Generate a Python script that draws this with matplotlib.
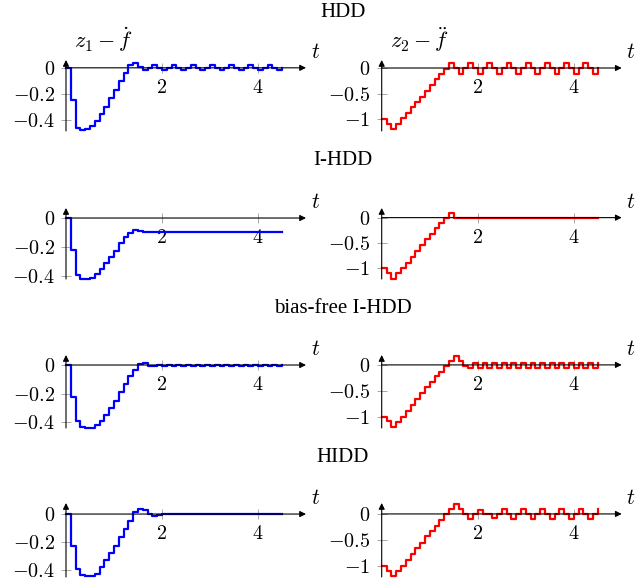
import numpy as np
import matplotlib
matplotlib.use("Agg")
import matplotlib.pyplot as plt

plt.rcParams['mathtext.fontset'] = 'cm'
plt.rcParams['font.family'] = ['Liberation Serif', 'DejaVu Serif']

# sample times (0.1 s grid, 0 .. 4.5)
t = np.round(np.arange(46) * 0.1, 1)

titles = ["HDD", "I-HDD", "bias-free I-HDD", "HIDD"]

hdd_z1 = [0, -0.245, -0.46, -0.478, -0.47, -0.447, -0.405, -0.357, -0.30, -0.232,
          -0.168, -0.098, -0.039, 0.02, 0.04, 0.01, -0.02, 0.0, 0.025, 0.0,
          -0.02, 0.0, 0.025, 0.0, -0.02, 0.0, 0.025, 0.0, -0.02, 0.0,
          0.025, 0.0, -0.02, 0.0, 0.025, 0.0, -0.02, 0.0, 0.025, 0.0,
          -0.02, 0.0, 0.025, 0.0, -0.02, 0.0]
hdd_z2 = [-1.0, -1.09, -1.19, -1.09, -0.98, -0.88, -0.77, -0.67, -0.56, -0.45,
          -0.34, -0.22, -0.12, -0.01, 0.1, 0.0, -0.11, 0.0, 0.1, 0.0,
          -0.11, 0.0, 0.1, 0.0, -0.11, 0.0, 0.1, 0.0, -0.11, 0.0,
          0.1, 0.0, -0.11, 0.0, 0.1, 0.0, -0.11, 0.0, 0.1, 0.0,
          -0.11, 0.0, 0.1, 0.0, -0.11, 0.0]

ihdd_z1 = [0, -0.22, -0.39, -0.42, -0.42, -0.41, -0.385, -0.35, -0.31, -0.27,
           -0.225, -0.175, -0.13, -0.10, -0.085, -0.092, -0.095, -0.095, -0.095, -0.095,
           -0.095, -0.095, -0.095, -0.095, -0.095, -0.095, -0.095, -0.095, -0.095, -0.095,
           -0.095, -0.095, -0.095, -0.095, -0.095, -0.095, -0.095, -0.095, -0.095, -0.095,
           -0.095, -0.095, -0.095, -0.095, -0.095, -0.095]
ihdd_z2 = [-1.0, -1.1, -1.21, -1.1, -1.0, -0.89, -0.77, -0.66, -0.54, -0.43,
           -0.32, -0.21, -0.11, -0.01, 0.1, -0.01, -0.01, 0.0, 0.0, 0.0,
           0.0, 0.0, 0.0, 0.0, 0.0, 0.0, 0.0, 0.0, 0.0, 0.0,
           0.0, 0.0, 0.0, 0.0, 0.0, 0.0, 0.0, 0.0, 0.0, 0.0,
           0.0, 0.0, 0.0, 0.0, 0.0, 0.0]

bf_z1 = [0, -0.22, -0.39, -0.435, -0.44, -0.44, -0.42, -0.39, -0.35, -0.30,
         -0.25, -0.19, -0.135, -0.08, -0.035, 0.005, 0.012, -0.005, -0.004, 0.003,
         -0.004, 0.003, -0.004, 0.003, -0.004, 0.003, -0.004, 0.003, -0.004, 0.003,
         -0.004, 0.003, -0.004, 0.003, -0.004, 0.003, -0.004, 0.003, -0.004, 0.003,
         -0.004, 0.003, -0.004, 0.003, -0.004, 0.003]
bf_z2 = [-1.0, -1.08, -1.19, -1.1, -1.0, -0.88, -0.76, -0.66, -0.54, -0.43,
         -0.33, -0.22, -0.13, -0.02, 0.08, 0.18, 0.08, -0.03, -0.05, 0.04,
         -0.05, 0.04, -0.05, 0.04, -0.05, 0.04, -0.05, 0.04, -0.05, 0.04,
         -0.05, 0.04, -0.05, 0.04, -0.05, 0.04, -0.05, 0.04, -0.05, 0.04,
         -0.05, 0.04, -0.05, 0.04, -0.05, 0.04]

hidd_z1 = [0, -0.225, -0.39, -0.435, -0.445, -0.445, -0.426, -0.38, -0.33, -0.28,
           -0.225, -0.167, -0.105, -0.048, 0.012, 0.036, 0.026, 0.0, -0.012, -0.01,
           0.002, -0.003, 0.0, 0.003, -0.002, 0.0, 0.003, -0.003, 0.0, 0.002,
           -0.003, 0.0, 0.003, -0.002, 0.0, 0.003, -0.003, 0.0, 0.002, -0.002,
           0.0, 0.003, -0.003, 0.0, 0.002, 0.0]
hidd_z2 = [-1.0, -1.1, -1.2, -1.1, -1.0, -0.88, -0.77, -0.66, -0.55, -0.43,
           -0.32, -0.23, -0.12, -0.01, 0.1, 0.19, 0.1, 0.0, -0.1, 0.0,
           0.08, 0.0, 0.0, -0.08, 0.0, 0.1, 0.0, -0.1, 0.0, 0.1,
           0.0, -0.1, 0.0, 0.1, 0.0, -0.1, 0.0, 0.1, 0.0, -0.1,
           0.0, 0.1, 0.0, -0.1, 0.0, 0.1]

series_z1 = [hdd_z1, ihdd_z1, bf_z1, hidd_z1]
series_z2 = [hdd_z2, ihdd_z2, bf_z2, hidd_z2]

yticks_z1 = [0, -0.2, -0.4]
ytick_labels_z1 = ["$0$", "$-0.2$", "$-0.4$"]
yticks_z2 = [0, -0.5, -1]
ytick_labels_z2 = ["$0$", "$-0.5$", "$-1$"]
xticks = [2, 4]
xtick_labels = ["$2$", "$4$"]

W, H = 636, 586
fig = plt.figure(figsize=(W / 100, H / 100), dpi=100)

# layout in pixels
col_left = [66, 381.7]
col_width = 240
row_tb = [(60, 131), (208, 279), (355, 428), (503, 577)]
ylims_z1 = [(-0.485, 0.06), (-0.42, 0.069), (-0.44, 0.07), (-0.45, 0.079)]
ylims_z2 = [(-1.235, 0.157), (-1.21, 0.19), (-1.21, 0.19), (-1.21, 0.21)]
title_y = [12.5, 160.5, 308.5, 457.5]


def make_axes(xpx, top, bot):
    return fig.add_axes([xpx / W, 1 - bot / H, col_width / W, (bot - top) / H])


def style(ax, ylim, yt, ytl):
    ax.set_xlim(0, 5.0)
    ax.set_ylim(*ylim)
    ax.patch.set_visible(False)
    for s in ['top', 'right']:
        ax.spines[s].set_visible(False)
    ax.spines['left'].set_position('zero')
    ax.spines['bottom'].set_position('zero')
    ax.spines['left'].set_visible(False)
    ax.spines['bottom'].set_visible(False)
    ax.set_xticks(xticks)
    ax.set_xticklabels(xtick_labels)
    ax.set_yticks(yt)
    ax.set_yticklabels(ytl)
    ax.tick_params(direction='inout', length=7, width=0.6, color='#999999',
                   labelsize=14.5, pad=4.5)
    arrow = dict(arrowstyle='-|>', color='black', lw=0.8, mutation_scale=9,
                 shrinkA=0, shrinkB=0)
    ax.annotate('', xy=(1.0, 0), xycoords=('axes fraction', 'data'),
                xytext=(0.0, 0), textcoords=('axes fraction', 'data'),
                arrowprops=arrow, annotation_clip=False)
    ax.annotate('', xy=(0, 1.0), xycoords=('data', 'axes fraction'),
                xytext=(0, 0.0), textcoords=('data', 'axes fraction'),
                arrowprops=arrow, annotation_clip=False)
    ax.text(5.19, (ylim[1] - ylim[0]) * 0.07, "$t$", fontsize=15.5,
            ha='center', va='bottom', transform=ax.transData)


for r in range(4):
    top, bot = row_tb[r]
    axL = make_axes(col_left[0], top, bot)
    axR = make_axes(col_left[1], top, bot)
    axL.step(t, series_z1[r], where='post', color='#0000ff', lw=1.6, clip_on=False, zorder=3)
    axR.step(t, series_z2[r], where='post', color='#ff0000', lw=1.6, clip_on=False, zorder=3)
    style(axL, ylims_z1[r], yticks_z1, ytick_labels_z1)
    style(axR, ylims_z2[r], yticks_z2, ytick_labels_z2)
    fig.text(343 / W, 1 - title_y[r] / H, titles[r], ha='center', va='center', fontsize=15)
    if r == 0:
        axL.text(0.035, 1.29, r"$z_1 - \dot{f}$", fontsize=16, ha='left', va='center',
                 transform=axL.transAxes)
        axR.text(0.035, 1.29, r"$z_2 - \ddot{f}$", fontsize=16, ha='left', va='center',
                 transform=axR.transAxes)

fig.savefig("out.png", dpi=100)
